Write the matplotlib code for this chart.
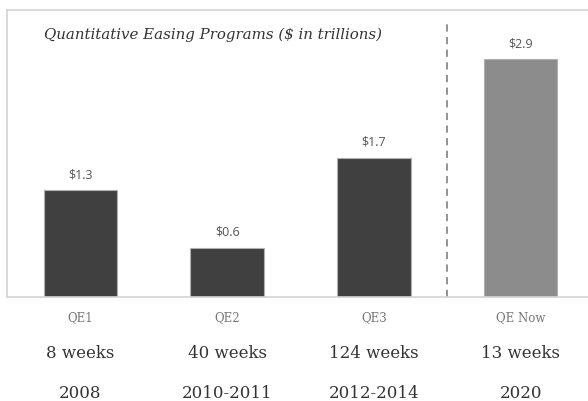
import matplotlib.pyplot as plt

programs = ["QE1", "QE2", "QE3", "QE Now"]
amounts = [1.3, 0.6, 1.7, 2.9]
durations = ["8 weeks", "40 weeks", "124 weeks", "13 weeks"]
years = ["2008", "2010-2011", "2012-2014", "2020"]
colors = ["#404040", "#404040", "#404040", "#8c8c8c"]

W, H = 588, 402
fig = plt.figure(figsize=(W / 100, H / 100), dpi=100)
# axes box runs a bit past the right edge of the figure
ax = fig.add_axes([7 / W, 1 - 298 / H, 587 / W, 287 / H])

x = range(len(programs))
ax.bar(x, amounts, width=0.5, color=colors, edgecolor="#b0b0b0", linewidth=0.8, zorder=2)
ax.set_xlim(-0.5, 3.5)
ax.set_ylim(0, 3.5)
ax.set_xticks([])
ax.set_yticks([])
for s in ax.spines.values():
    s.set_color("#d4d4d4")
    s.set_linewidth(1.2)

for i, v in enumerate(amounts):
    ax.text(i, v + 0.12, f"${v}", ha="center", va="bottom", fontsize=9,
            family="Open Sans", color="#555555")

# separator between past programs and the current one
ax.axvline(2.5, ymin=0.0, ymax=0.96, color="#8a8a8a", linestyle=(0, (4, 3)), linewidth=1.3)

ax.text(37 / 587, 1 - 24 / 287, "Quantitative Easing Programs ($ in trillions)",
        transform=ax.transAxes, ha="left", va="center", fontsize=10.8,
        family="DejaVu Serif", style="italic", color="#333333")

for i in x:
    xf = (7 + (i + 0.5) * 587 / 4) / W
    fig.text(xf, 1 - 318 / H, programs[i], ha="center", va="center", fontsize=8.5,
             family="DejaVu Serif", color="#777777")
    fig.text(xf, 1 - 353 / H, durations[i], ha="center", va="center", fontsize=12,
             family="DejaVu Serif", color="#333333")
    fig.text(xf, 1 - 394 / H, years[i], ha="center", va="center", fontsize=12,
             family="DejaVu Serif", color="#333333")

fig.savefig("out.png", dpi=100)
